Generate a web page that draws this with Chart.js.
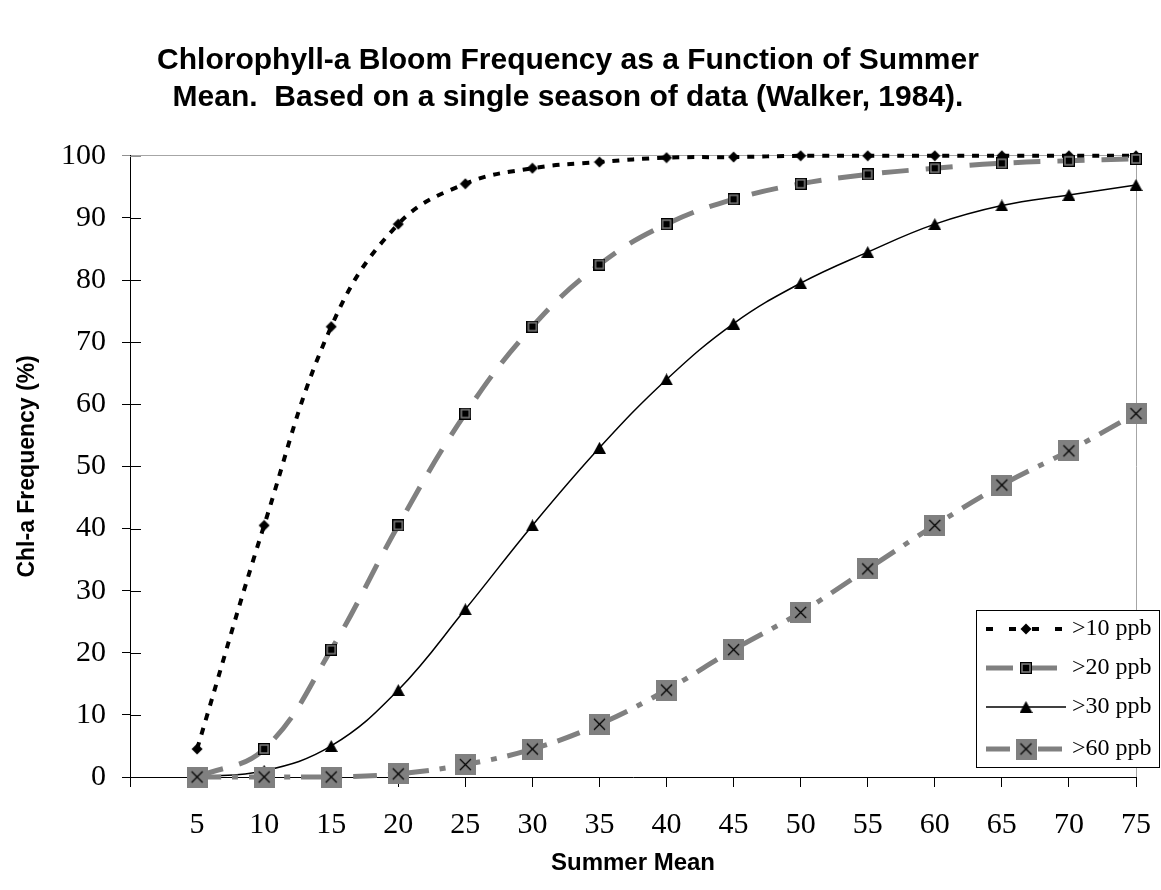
<!DOCTYPE html>
<html>
<head>
<meta charset="utf-8">
<script src="https://cdn.jsdelivr.net/npm/chart.js@4.4.1/dist/chart.umd.min.js"></script>
<style>
    html, body { margin: 0; padding: 0; background: #ffffff; }
    #wrap { width: 1161px; height: 890px; }
</style>
</head>
<body>
<div id="wrap"><canvas id="chart" width="1161" height="890"></canvas></div>
<script>
const summerMean = [5, 10, 15, 20, 25, 30, 35, 40, 45, 50, 55, 60, 65, 70, 75];
const over10 = [4.5, 40.5, 72.5, 89, 95.5, 98, 99, 99.7, 99.8, 100, 100, 100, 100, 100, 100];
const over20 = [0, 4.5, 20.5, 40.5, 58.5, 72.5, 82.5, 89, 93, 95.5, 97, 98, 98.8, 99.2, 99.5];
const over30 = [0, 1, 5, 14, 27, 40.5, 53, 64, 73, 79.5, 84.5, 89, 92, 93.7, 95.3];
const over60 = [0, 0, 0, 0.5, 2, 4.5, 8.5, 14, 20.5, 26.5, 33.5, 40.5, 47, 52.5, 58.5];
const seriesLabels = ['>10 ppb', '>20 ppb', '>30 ppb', '>60 ppb'];
const titleLines = ['Chlorophyll-a Bloom Frequency as a Function of Summer', 'Mean.  Based on a single season of data (Walker, 1984).'];

const GRAY = '#808080';
const SERIF = '"Liberation Serif", "Times New Roman", serif';
const SANS = '"Liberation Sans", Arial, sans-serif';

function makeMarker(w, h, draw) {
    const c = document.createElement('canvas');
    c.width = w;
    c.height = h;
    draw(c.getContext('2d'));
    return c;
}

const diamond = makeMarker(12, 12, g => {
    g.fillStyle = '#000';
    g.beginPath();
    g.moveTo(6, 0.5); g.lineTo(11.5, 6); g.lineTo(6, 11.5); g.lineTo(0.5, 6);
    g.closePath();
    g.fill();
});

const square = makeMarker(12, 12, g => {
    g.fillStyle = '#000';
    g.fillRect(0, 0, 12, 12);
    g.strokeStyle = GRAY;
    g.lineWidth = 1.5;
    g.strokeRect(2, 2, 8, 8);
});

const triangle = makeMarker(13, 12, g => {
    g.fillStyle = '#000';
    g.beginPath();
    g.moveTo(6.5, 0); g.lineTo(13, 12); g.lineTo(0, 12);
    g.closePath();
    g.fill();
});

const crossBox = makeMarker(21, 21, g => {
    g.fillStyle = GRAY;
    g.fillRect(0, 0, 21, 21);
    g.strokeStyle = '#000';
    g.lineWidth = 1.2;
    g.beginPath();
    g.moveTo(5, 5); g.lineTo(16, 16);
    g.moveTo(16, 5); g.lineTo(5, 16);
    g.stroke();
});

const toPoints = vals => vals.map((v, i) => ({ x: summerMean[i], y: v }));

const datasets = [
    { label: seriesLabels[0], data: toPoints(over10), borderColor: '#000', borderWidth: 4, borderDash: [7, 8], pointStyle: diamond, order: 3 },
    { label: seriesLabels[1], data: toPoints(over20), borderColor: GRAY, borderWidth: 5, borderDash: [27, 17], pointStyle: square, order: 2 },
    { label: seriesLabels[2], data: toPoints(over30), borderColor: '#000', borderWidth: 1.5, borderDash: [], pointStyle: triangle, order: 1 },
    { label: seriesLabels[3], data: toPoints(over60), borderColor: GRAY, borderWidth: 5, borderDash: [24, 11, 6, 11], pointStyle: crossBox, order: 0 }
].map(d => Object.assign(d, { tension: 0.4, fill: false, clip: 14, pointRadius: 6 }));

// inner half of the "cross" tick marks on the value axis
const innerTicks = {
    id: 'innerTicks',
    afterDraw(chart) {
        const { ctx, chartArea, scales } = chart;
        ctx.save();
        ctx.lineWidth = 1;
        scales.y.ticks.forEach(t => {
            const y = Math.round(scales.y.getPixelForValue(t.value)) + 0.5;
            ctx.strokeStyle = t.value === 100 ? '#909090' : '#000';
            ctx.beginPath();
            ctx.moveTo(chartArea.left, y);
            ctx.lineTo(chartArea.left + 11, y);
            ctx.stroke();
        });
        ctx.restore();
    }
};

// legend box sitting inside the plot, bottom right
const boxLegend = {
    id: 'boxLegend',
    afterDraw(chart) {
        const { ctx } = chart;
        const left = 976, top = 610, width = 183, height = 157;
        const rows = [629, 668, 707, 749];
        ctx.save();
        ctx.fillStyle = '#fff';
        ctx.fillRect(left, top, width, height);
        ctx.strokeStyle = '#000';
        ctx.lineWidth = 1;
        ctx.strokeRect(left + 0.5, top + 0.5, width, height);
        chart.data.datasets.forEach((ds, i) => {
            const y = rows[i];
            ctx.strokeStyle = ds.borderColor;
            ctx.lineWidth = ds.borderWidth;
            ctx.setLineDash(i === 0 ? [7, 16] : ds.borderDash);
            ctx.beginPath();
            ctx.moveTo(986, y);
            ctx.lineTo(1066, y);
            ctx.stroke();
            ctx.setLineDash([]);
            const m = ds.pointStyle;
            ctx.drawImage(m, 1026 - m.width / 2, y - m.height / 2);
            ctx.fillStyle = '#000';
            ctx.font = '24px ' + SERIF;
            ctx.textBaseline = 'middle';
            ctx.fillText(ds.label, 1072, y);
        });
        ctx.restore();
    }
};

const ctx = document.getElementById('chart').getContext('2d');
new Chart(ctx, {
    type: 'line',
    data: { datasets },
    options: {
        responsive: false,
        animation: false,
        events: [],
        layout: { padding: { left: 0, right: 25, top: 0, bottom: 0 } },
        plugins: {
            legend: { display: false },
            tooltip: { enabled: false },
            title: {
                display: true,
                text: titleLines,
                color: '#000',
                font: { family: SANS, size: 30, weight: 'bold', lineHeight: 1.23 },
                padding: { top: 42, bottom: 40 }
            }
        },
        scales: {
            x: {
                type: 'linear',
                min: 0,
                max: 75,
                afterFit(scale) {
                    scale.height = 113;
                    scale.paddingRight = 0;
                    scale.paddingLeft = 0;
                },
                ticks: {
                    stepSize: 5,
                    color: '#000',
                    padding: 20,
                    maxRotation: 0,
                    font: { family: SERIF, size: 30 },
                    callback: v => (v === 0 ? '' : v)
                },
                grid: {
                    color: c => (c.tick && c.tick.value === 75 ? '#a6a6a6' : 'rgba(0,0,0,0)'),
                    tickColor: '#000',
                    tickLength: 10,
                    lineWidth: 1
                },
                border: { color: '#000', width: 1 },
                title: {
                    display: true,
                    text: 'Summer Mean',
                    color: '#000',
                    font: { family: SANS, size: 24, weight: 'bold', lineHeight: 1.2 },
                    padding: { top: 0, bottom: 12 }
                }
            },
            y: {
                min: 0,
                max: 100,
                afterFit(scale) { scale.width = 130; },
                ticks: {
                    stepSize: 10,
                    color: '#000',
                    padding: 16,
                    font: { family: SERIF, size: 30 }
                },
                grid: {
                    color: c => (c.tick && c.tick.value === 100 ? '#a6a6a6' : 'rgba(0,0,0,0)'),
                    tickColor: c => (c.tick && c.tick.value === 100 ? '#909090' : '#000'),
                    tickLength: 8,
                    lineWidth: 1
                },
                border: { color: '#000', width: 1 },
                title: {
                    display: true,
                    text: 'Chl-a Frequency (%)',
                    color: '#000',
                    font: { family: SANS, size: 23, weight: 'bold', lineHeight: 1.2 },
                    padding: { top: 14, bottom: 0 }
                }
            }
        }
    },
    plugins: [innerTicks, boxLegend]
});
</script>
</body>
</html>
